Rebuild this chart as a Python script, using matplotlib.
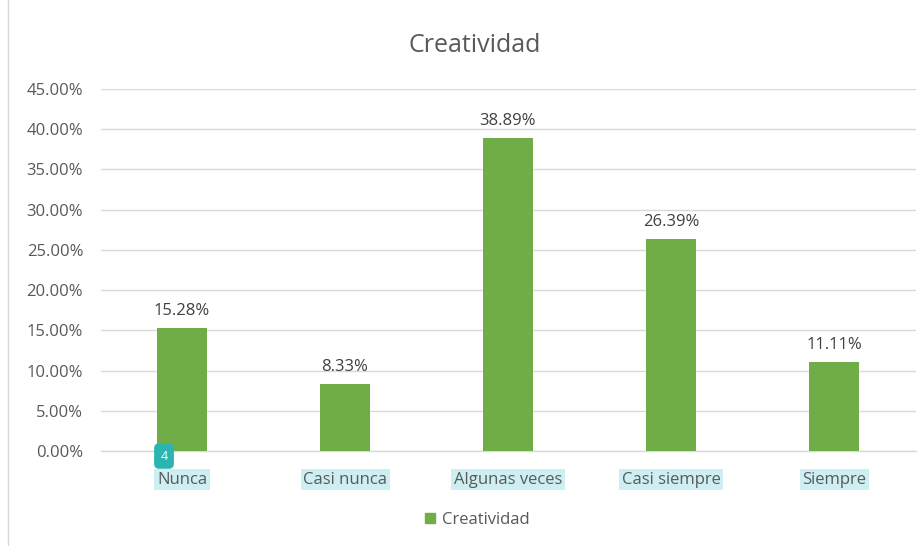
import matplotlib
matplotlib.use("Agg")
import matplotlib.pyplot as plt
from matplotlib.ticker import FuncFormatter, MultipleLocator
from matplotlib.lines import Line2D

categories = ["Nunca", "Casi nunca", "Algunas veces", "Casi siempre", "Siempre"]
values = [15.28, 8.33, 38.89, 26.39, 11.11]
series_name = "Creatividad"

plt.rcParams['font.family'] = ['Open Sans', 'DejaVu Sans']
txt = '#595959'
green = '#70AD47'

fig = plt.figure(figsize=(9.24, 5.46), dpi=100)
ax = fig.add_axes([100.5/924, 1 - 451/546, 815/924, (451-89)/546])

x = list(range(len(categories)))
bars = ax.bar(x, values, width=0.31, color=green, zorder=3, label=series_name)
for xi, v in zip(x, values):
    ax.text(xi, v + 1.1, f"{v:.2f}%", ha='center', va='bottom', fontsize=12, color='#404040')

ax.set_xlim(-0.5, len(categories) - 0.5)
ax.set_ylim(0, 45)
ax.yaxis.set_major_locator(MultipleLocator(5))
ax.yaxis.set_major_formatter(FuncFormatter(lambda v, p: f"{v:.2f}%"))
ax.grid(axis='y', color='#D9D9D9', linewidth=1, zorder=0)
for s in ['top', 'right', 'left']:
    ax.spines[s].set_visible(False)
ax.spines['bottom'].set_color('#D9D9D9')
ax.spines['bottom'].set_linewidth(1)
ax.tick_params(axis='both', length=0, colors=txt, labelsize=12)
ax.tick_params(axis='y', pad=12.5)
ax.tick_params(axis='x', pad=15)
ax.set_xticks(x)
ax.set_xticklabels(categories)
for lbl in ax.get_xticklabels():
    lbl.set_bbox(dict(boxstyle='square,pad=0.15', facecolor='#CDEFF2', edgecolor='none'))

fig.text(475/924, 1 - 45/546, "Creatividad", ha='center', va='center', fontsize=18, color=txt)

# small badge
fig.text(164/924, 1 - 456/546, "4", ha='center', va='center', fontsize=9, color='white',
         bbox=dict(boxstyle='round,pad=0.5,rounding_size=0.4', facecolor='#2BB5B0', edgecolor='none'))

handle = [plt.Rectangle((0, 0), 1, 1, color=green)]
fig.legend(handle, [series_name], loc='center', bbox_to_anchor=(477/924, 1 - 520/546),
           frameon=False, fontsize=12, labelcolor=txt, handlelength=0.6, handleheight=0.6,
           handletextpad=0.4)

fig.add_artist(Line2D([8/924, 8/924], [0, 1], transform=fig.transFigure, color='#D9D9D9', linewidth=1))

fig.savefig("out.png", dpi=100)
